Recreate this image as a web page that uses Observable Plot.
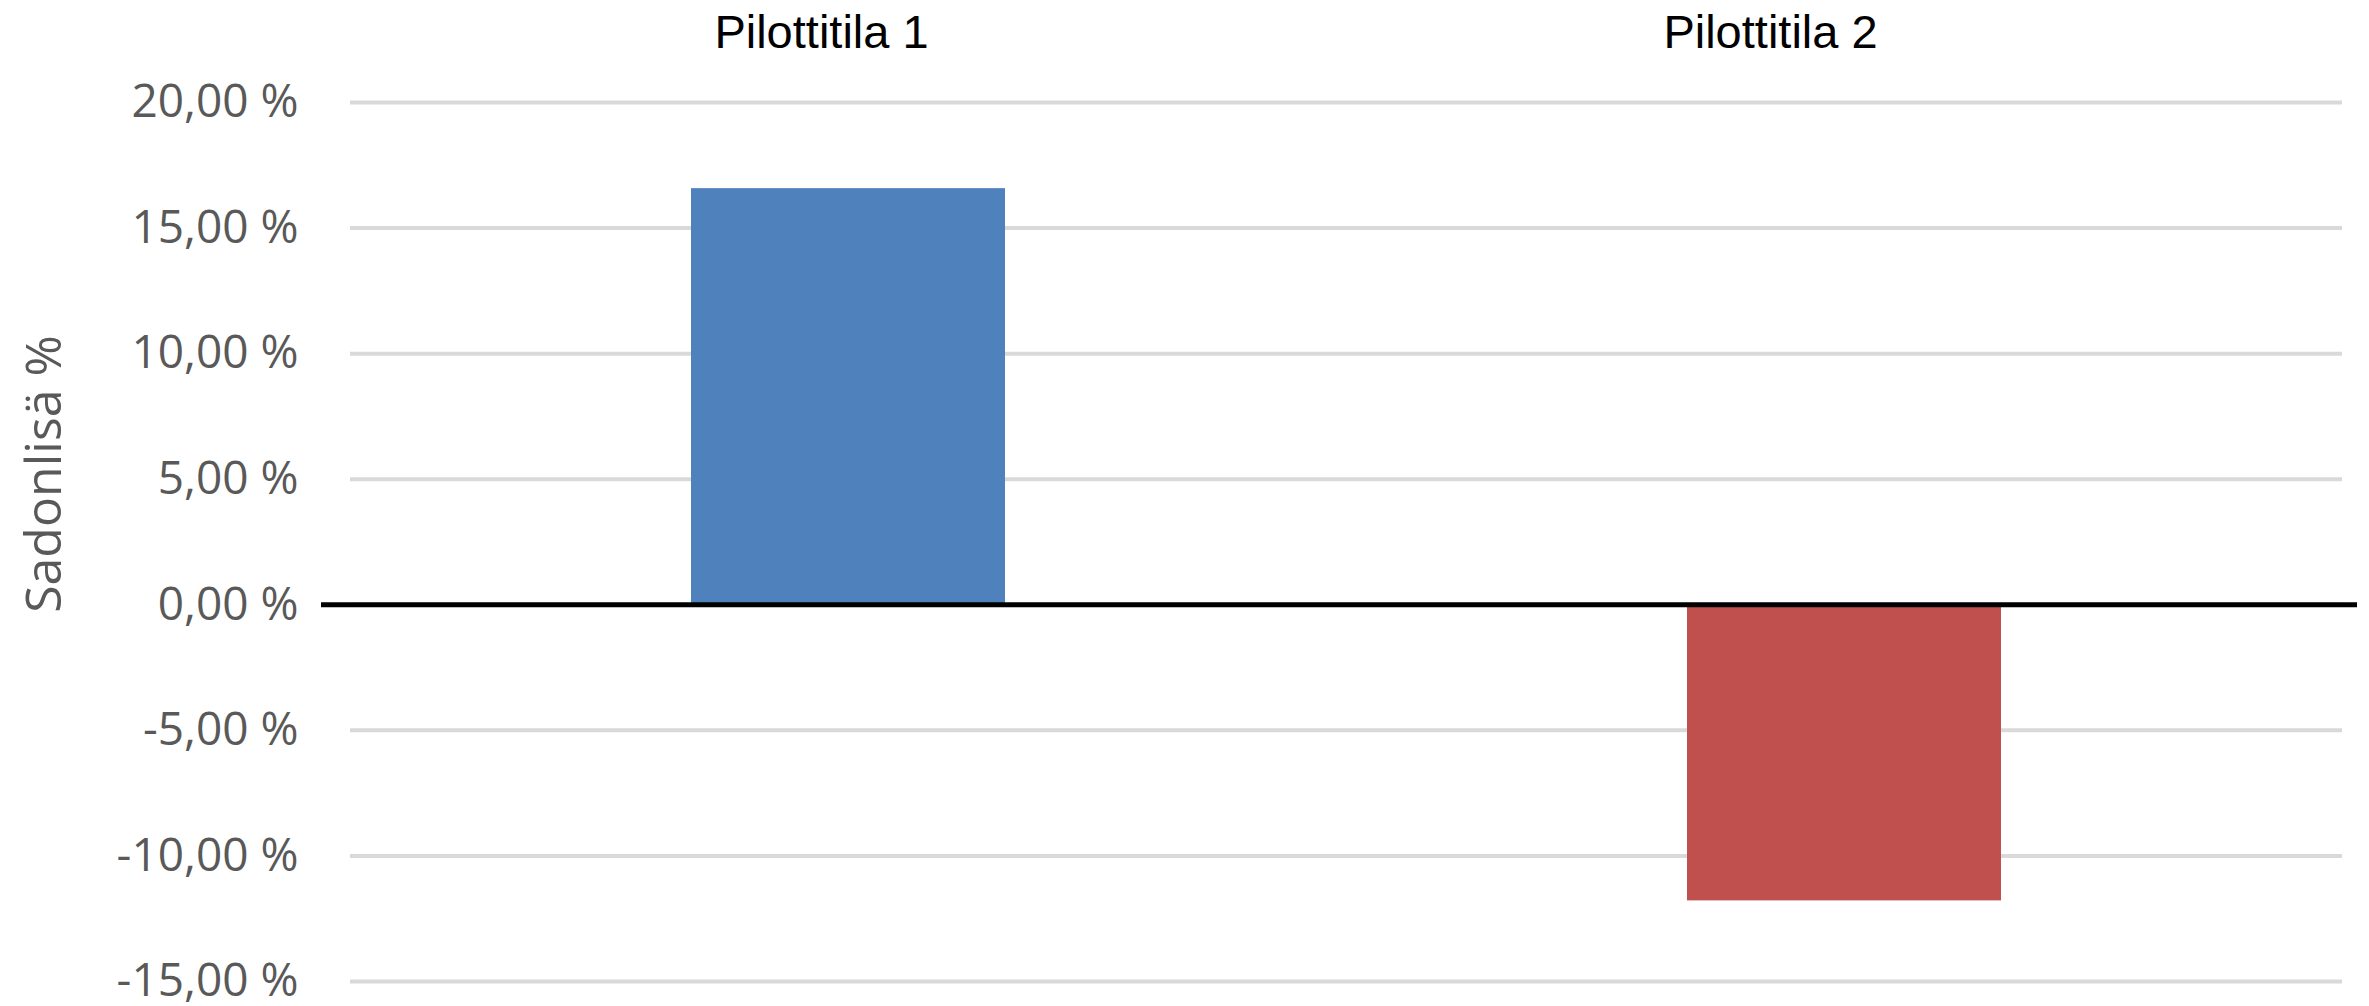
<!DOCTYPE html>
<html>
<head>
<meta charset="utf-8">
<script src="https://cdn.jsdelivr.net/npm/d3@7"></script>
<script src="https://cdn.jsdelivr.net/npm/@observablehq/plot@0.6"></script>
<style>
  html, body { margin: 0; padding: 0; background: #fff; }
  #chart svg { display: block; }
</style>
</head>
<body>
<div id="chart"></div>
<script>
const categories = ["Pilottitila 1", "Pilottitila 2"];
const values = [16.57, -11.79];
const barColors = ["#4F81BD", "#C0504D"];
const tickValues = [20, 15, 10, 5, 0, -5, -10, -15];
const tickLabels = ["20,00 %", "15,00 %", "10,00 %", "5,00 %", "0,00 %", "-5,00 %", "-10,00 %", "-15,00 %"];
const yLabel = "Sadonlisä %";

const data = categories.map((c, i) => ({category: c, value: values[i], color: barColors[i]}));
const labelOf = new Map(tickValues.map((v, i) => [v, tickLabels[i]]));

const chart = Plot.plot({
  width: 2369,
  height: 1006,
  marginLeft: 350,
  marginRight: 27,
  marginTop: 102,
  marginBottom: 25,
  style: {fontFamily: "'Open Sans', sans-serif", fontSize: "46px", color: "#595959", background: "#fff", overflow: "visible"},
  x: {type: "band", domain: categories, paddingInner: 0.685, paddingOuter: 0.3425, axis: null},
  y: {domain: [-15, 20], axis: null},
  marks: [
    Plot.ruleY(tickValues, {stroke: "#d9d9d9", strokeWidth: 4}),
    Plot.axisY({ticks: tickValues, tickFormat: v => labelOf.get(v), tickSize: 0, tickPadding: 52, label: null, fontSize: 46, fill: "#595959"}),
    Plot.barY(data, {x: "category", y: "value", fill: "color"}),
    Plot.ruleY([0], {stroke: "#000", strokeWidth: 5, insetLeft: -29, insetRight: -15}),
    Plot.text([categories[0]], {x: d => d, frameAnchor: "top", lineAnchor: "bottom", dy: -55, dx: -27, fontFamily: "'Liberation Sans', Arial, sans-serif", fontSize: 47, fill: "#000"}),
    Plot.text([categories[1]], {x: d => d, frameAnchor: "top", lineAnchor: "bottom", dy: -55, dx: -74, fontFamily: "'Liberation Sans', Arial, sans-serif", fontSize: 47, fill: "#000"}),
    Plot.text([yLabel], {frameAnchor: "left", textAnchor: "middle", rotate: -90, lineAnchor: "bottom", dx: -290, dy: -68, fontSize: 50, fill: "#595959"})
  ]
});
document.getElementById("chart").appendChild(chart);
</script>
</body>
</html>
